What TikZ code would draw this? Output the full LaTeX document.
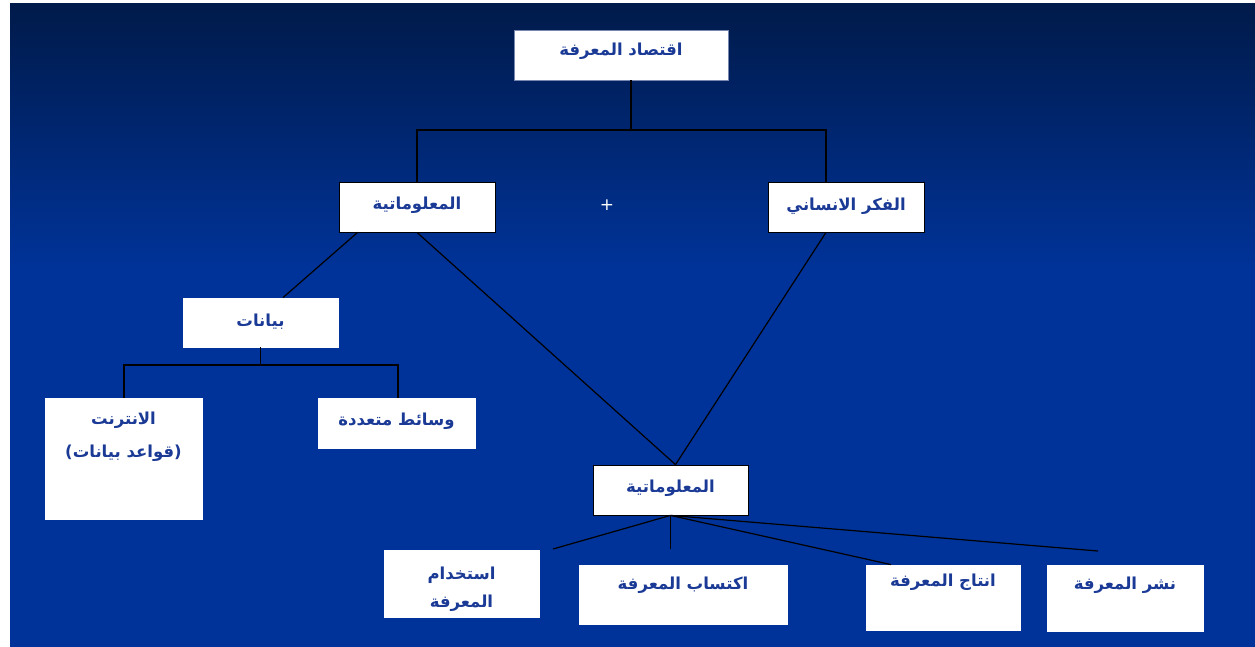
\documentclass[tikz,border=0pt]{standalone}
\usepackage{fontspec}
\TeXXeTstate=1
\newfontfamily\arabicfont[Script=Arabic]{DejaVu Sans}
\definecolor{txtblue}{RGB}{26,58,150}
\definecolor{bgtop}{RGB}{0,26,74}
\definecolor{bgbot}{RGB}{0,51,153}
\definecolor{topedge}{RGB}{120,135,175}
\begin{document}
\begin{tikzpicture}[x=1pt,y=-1pt,
  box/.style={draw=#1,line width=0.8pt,fill=white,inner sep=0pt},
  box/.default=white,
  txt/.style={font=\arabicfont\bfseries\fontsize{16.5}{30}\selectfont,text=txtblue,align=center,inner sep=0pt},
  conn/.style={draw=black,line width=1.2pt}]
\useasboundingbox (0,0) rectangle (1255,647);
\fill[white] (0,0) rectangle (1255,647);
\shade[top color=bgtop,bottom color=bgbot] (10,4) rectangle (1255,270);
\fill[bgbot] (10,269.5) rectangle (1255,647);
% boxes
\node[box=topedge,minimum width=214pt,minimum height=50pt] (top) at (621,55) {};
\node[box=black,minimum width=156pt,minimum height=50pt] (infoL) at (417,207) {};
\node[box=black,minimum width=156pt,minimum height=50pt] (human) at (846,207) {};
\node[box,minimum width=155pt,minimum height=49pt] (data) at (260.5,322.5) {};
\node[box,minimum width=157pt,minimum height=121pt] (internet) at (123.5,458.5) {};
\node[box,minimum width=157pt,minimum height=50pt] (media) at (396.5,423) {};
\node[box=black,minimum width=155pt,minimum height=50pt] (infoB) at (670.5,490) {};
\node[box,minimum width=155pt,minimum height=67pt] (use) at (461.5,583.5) {};
\node[box,minimum width=208pt,minimum height=59pt] (acq) at (683,594.5) {};
\node[box,minimum width=154pt,minimum height=65pt] (prod) at (943,597.5) {};
\node[box,minimum width=156pt,minimum height=66pt] (pub) at (1125,598) {};
% texts
\node[txt] (ttop) at (621,51) {\beginR اقتصاد المعرفة\endR};
\node[txt] (tinfoL) at (417,205) {\beginR المعلوماتية\endR};
\node[txt] (thuman) at (846,206) {\beginR الفكر الانساني\endR};
\node[font=\arabicfont\fontsize{17}{20}\selectfont,text=white,inner sep=0pt] (plus) at (607,205) {+};
\node[txt] (tdata) at (260.5,322) {\beginR بيانات\endR};
\node[txt,font=\arabicfont\bfseries\fontsize{16.5}{33}\selectfont] (tinternet) at (123.5,437) {\beginR الانترنت\endR\\\beginR (قواعد بيانات)\endR};
\node[txt] (tmedia) at (396.5,421) {\beginR وسائط متعددة\endR};
\node[txt] (tinfoB) at (670.5,488) {\beginR المعلوماتية\endR};
\node[txt,font=\arabicfont\bfseries\fontsize{16.5}{28}\selectfont] (tuse) at (461.5,589) {\beginR استخدام\endR\\\beginR المعرفة\endR};
\node[txt] (tacq) at (683,585) {\beginR اكتساب المعرفة\endR};
\node[txt] (tprod) at (943,582) {\beginR انتاج المعرفة\endR};
\node[txt] (tpub) at (1125,585) {\beginR نشر المعرفة\endR};
% junctions
\coordinate (t0) at (631,130);
\coordinate (hL) at (417,130);
\coordinate (hR) at (826,130);
\coordinate (d0) at (260.5,365);
\coordinate (dL) at (124,365);
\coordinate (dR) at (398,365);
\coordinate (u1) at (553,549);
\coordinate (u2) at (670.5,549);
\coordinate (u4) at (1098,551);
% connectors
\draw[conn] (top.south -| t0) -- (t0);
\draw[conn] (infoL.north) -- (hL) -- (hR) -- (hR |- human.north);
\draw[conn] (data.south) -- (d0);
\draw[conn] (internet.north -| dL) -- (dL) -- (dR) -- (media.north -| dR);
\draw[conn] ([xshift=19pt]infoL.south west) -- ([xshift=22.5pt]data.north);
\draw[conn] (infoL.south) -- ([xshift=5pt]infoB.north);
\draw[conn] (human.south -| hR) -- ([xshift=5pt]infoB.north);
\draw[conn] (infoB.south) -- (u1);
\draw[conn] (infoB.south) -- (u2);
\draw[conn] (infoB.south) -- ([xshift=-52pt]prod.north);
\draw[conn] (infoB.south) -- (u4);
\end{tikzpicture}
\end{document}
